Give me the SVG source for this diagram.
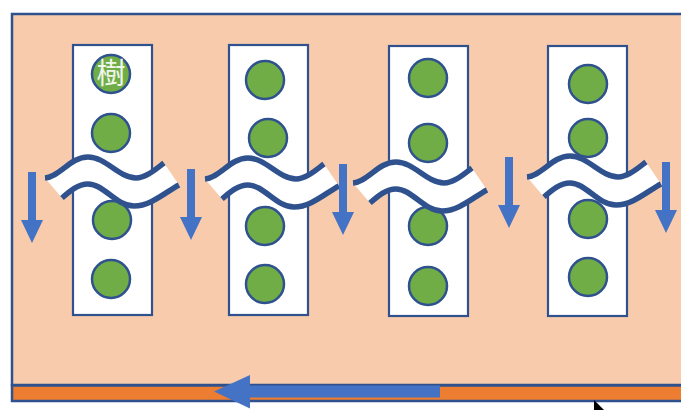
<svg xmlns="http://www.w3.org/2000/svg" xmlns:xlink="http://www.w3.org/1999/xlink" width="681" height="410" viewBox="0 0 681 410">
<style>
.frame{fill:#F8CBAD;stroke:#2F528F;stroke-width:2.5}
.band{fill:#ED7D31;stroke:#2F528F;stroke-width:2.5}
.col{fill:#FFFFFF;stroke:#2F528F;stroke-width:2.2}
.tree{fill:#70AD47;stroke:#2F528F;stroke-width:2.5}
.wfill{fill:#FFFFFF;stroke:none}
.wline{fill:none;stroke:#2F528F;stroke-width:5.5}
.arr{fill:#4472C4;stroke:none}
.lbl{font-family:"Noto Sans CJK JP","Noto Sans CJK SC",sans-serif;font-size:29px;fill:#F0F6EC;text-anchor:middle}
</style>
<defs>
<polygon id="down" points="-4,0 4,0 4,48 11,48 0,71 -11,48 -4,48"/>
<g id="wave">
<path class="wfill" d="M45,178 C60,177 70,157 88,157 C106,157 119,178 136,178 C146,178 156,169 164,163 L179,185 C167,191 151,206 134,206 C116,206 104,184 88,184 C78,184 70,191 62,198 Z"/>
<path class="wline" d="M45,178 C60,177 70,157 88,157 C106,157 119,178 136,178 C146,178 156,169 164,163"/>
<path class="wline" d="M179,185 C167,191 151,206 134,206 C116,206 104,184 88,184 C78,184 70,191 62,198"/>
</g>
</defs>
<g id="frame">
<rect class="frame" x="12" y="14" width="700" height="371"/>
<rect class="band" x="12" y="385.5" width="700" height="15.5"/>
</g>
<g id="column1">
<rect class="col" x="73" y="45" width="79" height="270"/>
<circle class="tree" cx="111" cy="74" r="19"/>
<text class="lbl" x="111" y="84">樹</text>
<circle class="tree" cx="111" cy="133" r="19"/>
<circle class="tree" cx="112" cy="220" r="19"/>
<circle class="tree" cx="111" cy="279" r="19"/>
</g>
<g id="column2">
<rect class="col" x="229" y="45" width="79" height="270"/>
<circle class="tree" cx="265" cy="80" r="19"/>
<circle class="tree" cx="268" cy="138" r="19"/>
<circle class="tree" cx="265" cy="226" r="19"/>
<circle class="tree" cx="265" cy="284" r="19"/>
</g>
<g id="column3">
<rect class="col" x="389" y="46" width="79" height="270"/>
<circle class="tree" cx="428" cy="78" r="19"/>
<circle class="tree" cx="428" cy="143" r="19"/>
<circle class="tree" cx="428" cy="226" r="19"/>
<circle class="tree" cx="428" cy="286" r="19"/>
</g>
<g id="column4">
<rect class="col" x="548" y="46" width="79" height="270"/>
<circle class="tree" cx="588" cy="84" r="19"/>
<circle class="tree" cx="588" cy="138" r="19"/>
<circle class="tree" cx="588" cy="219" r="19"/>
<circle class="tree" cx="588" cy="277" r="19"/>
</g>
<g id="breaks">
<use xlink:href="#wave" href="#wave"/>
<use xlink:href="#wave" href="#wave" transform="translate(160,1)"/>
<use xlink:href="#wave" href="#wave" transform="translate(308,5)"/>
<use xlink:href="#wave" href="#wave" transform="translate(482,-1)"/>
</g>
<g id="connectors">
<use class="arr" xlink:href="#down" href="#down" transform="translate(32,172)"/>
<use class="arr" xlink:href="#down" href="#down" transform="translate(191,169)"/>
<use class="arr" xlink:href="#down" href="#down" transform="translate(343,164)"/>
<use class="arr" xlink:href="#down" href="#down" transform="translate(509,157)"/>
<use class="arr" xlink:href="#down" href="#down" transform="translate(666,162)"/>
<polygon class="arr" points="440,385.5 250,385.5 250,375 214,391.5 250,408.5 250,397.5 440,397.5"/>
</g>
<g id="cursor">
<polygon points="594,400 613,419 594,419" fill="#000000"/>
</g>
</svg>
